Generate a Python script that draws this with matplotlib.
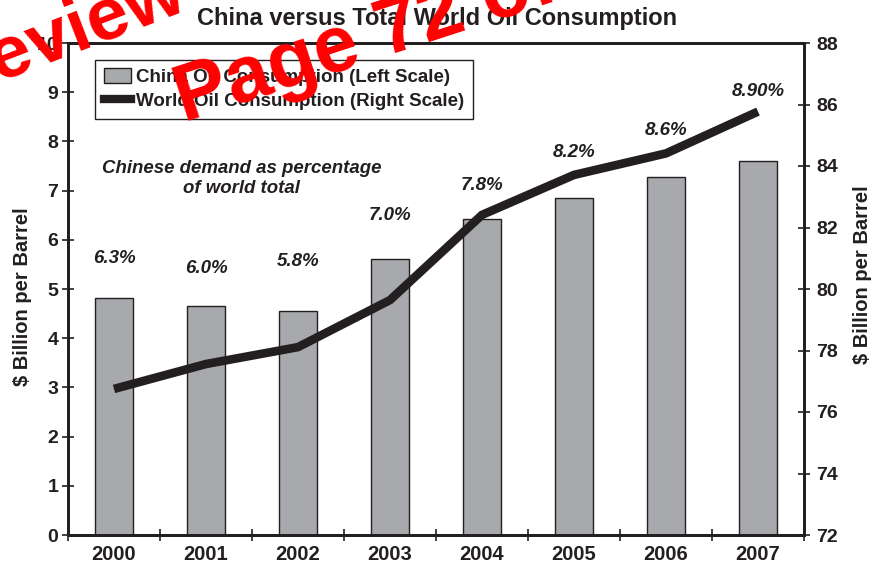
import numpy as np
import matplotlib
matplotlib.use("Agg")
import matplotlib.pyplot as plt
from matplotlib.patches import Patch
from matplotlib.lines import Line2D

# data
years = ["2000", "2001", "2002", "2003", "2004", "2005", "2006", "2007"]
china = [4.82, 4.66, 4.55, 5.60, 6.42, 6.84, 7.28, 7.60]          # left scale
world = [76.75, 77.56, 78.11, 79.64, 82.41, 83.71, 84.41, 85.77]  # right scale
share_labels = ["6.3%", "6.0%", "5.8%", "7.0%", "7.8%", "8.2%", "8.6%", "8.90%"]

# where the share labels sit (left-scale units)
share_y = [5.63, 5.41, 5.55, 6.50, 7.11, 7.78, 8.23, 9.01]

INK = "#231f20"
BAR = "#a7a9ac"
plt.rcParams["font.family"] = ["Liberation Sans", "DejaVu Sans"]
plt.rcParams["font.weight"] = "bold"

fig = plt.figure(figsize=(8.75, 5.65), dpi=100)
ax = fig.add_axes([68 / 875, 1 - 535 / 565, 736 / 875, 492 / 565])
ax2 = ax.twinx()

x = np.arange(len(years))
ax.bar(x, china, width=0.41, color=BAR, edgecolor=INK, linewidth=1.0, zorder=2)
ax2.plot(x, world, color=INK, lw=6.2, solid_capstyle="butt", solid_joinstyle="miter", zorder=3)

ax.set_xlim(-0.5, len(years) - 0.5)
ax.set_ylim(0, 10)
ax2.set_ylim(72, 88)

ax.set_yticks(range(0, 11))
ax2.set_yticks(range(72, 89, 2))
ax.set_xticks(x, labels=years)
ax.set_xticks(np.arange(-0.5, len(years)), minor=True)

ax.tick_params(axis="y", direction="inout", length=8, width=1.2, colors=INK, labelsize=14, pad=3)
ax2.tick_params(axis="y", direction="inout", length=8, width=1.2, colors=INK, labelsize=14, pad=5)
ax.tick_params(axis="x", which="major", length=0, labelsize=14.5, colors=INK, pad=7)
ax.tick_params(axis="x", which="minor", direction="inout", length=8, width=1.2, color=INK)
for a in (ax, ax2):
    for s in a.spines.values():
        s.set_linewidth(2.0)
        s.set_color(INK)
    for lab in a.get_yticklabels() + a.get_xticklabels():
        lab.set_fontweight("bold")

ax.set_ylabel("$ Billion per Barrel", fontsize=14.5, fontweight="bold", color=INK)
ax2.set_ylabel("$ Billion per Barrel", fontsize=14.5, fontweight="bold", color=INK, rotation=90)
ax.yaxis.set_label_coords(-0.049, 0.484)
ax2.yaxis.set_label_coords(1.067, 0.53)

for xi, yi, s in zip(x, share_y, share_labels):
    ax.text(xi, yi, s, ha="center", va="center", fontsize=13.5, fontweight="bold",
            style="italic", color=INK, zorder=4)
ax.text(1.39, 7.24, "Chinese demand as percentage\nof world total", ha="center", va="center",
        fontsize=13.4, fontweight="bold", style="italic", color=INK, linespacing=1.2)

fig.text(0.499, 1 - 18 / 565, "China versus Total World Oil Consumption", ha="center",
         va="center", fontsize=17, fontweight="bold", color=INK)

handles = [Patch(facecolor=BAR, edgecolor=INK, linewidth=1.0),
           Line2D([], [], color=INK, lw=6)]
leg = ax2.legend(handles, ["China Oil Consumption (Left Scale)", "World Oil Consumption (Right Scale)"],
                 loc="upper left", bbox_to_anchor=(0.037, 0.966), borderaxespad=0,
                 fancybox=False, framealpha=1, edgecolor=INK, prop={"size": 13.5, "weight": "bold"},
                 handlelength=1.45, handleheight=0.8, handletextpad=0.3, labelspacing=0.35,
                 borderpad=0.45)
leg.get_frame().set_linewidth(1.0)
for t in leg.get_texts():
    t.set_color(INK)

# red review stamp over the page
fig.text(-52 / 875, 1 - 102 / 565, "Review In", color="#ff0000", fontsize=54, fontweight="bold",
         rotation=21, rotation_mode="anchor", ha="left", va="baseline", zorder=10)
fig.text(184 / 875, 1 - 122 / 565, "Page 72 of", color="#ff0000", fontsize=57, fontweight="bold",
         rotation=18, rotation_mode="anchor", ha="left", va="baseline", zorder=10)

fig.savefig("out.png", dpi=100, facecolor="white")
